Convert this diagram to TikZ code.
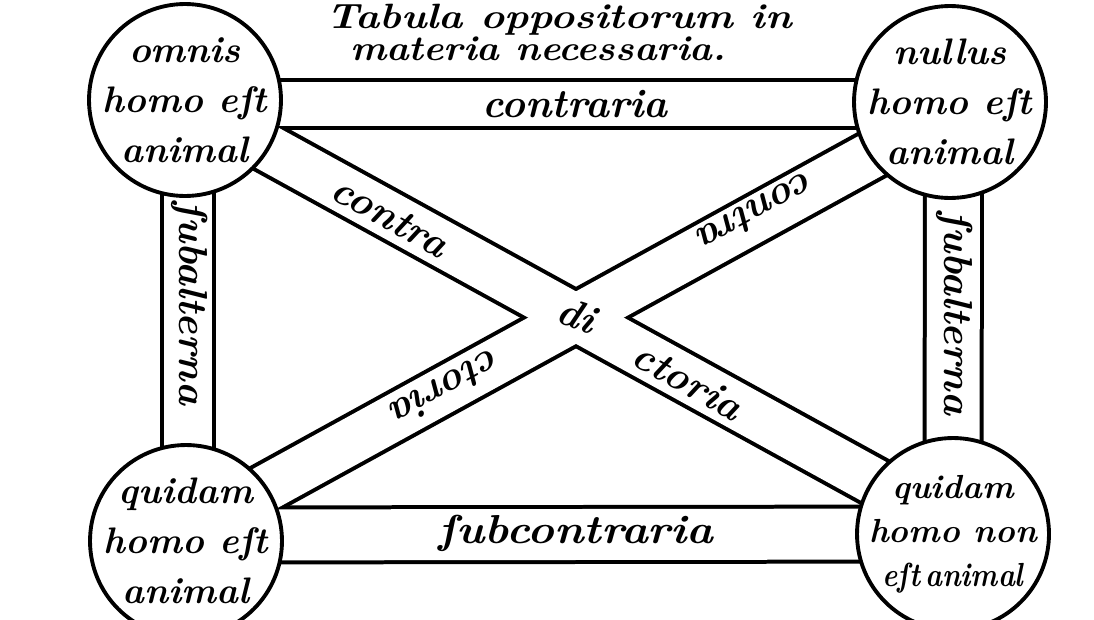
\documentclass[tikz,border=0pt]{standalone}
\usepackage{fontspec}
\usetikzlibrary{backgrounds}

\tikzset{
    propo/.style={circle, draw, line width=2.2pt, fill=white, minimum size=3.84cm, inner sep=-0.6cm, align=center, font=\bfseries\itshape\fontsize{21}{28.5}\selectfont},
    bandedge/.style={line width=#1, black},
    bandhole/.style={line width=#1, white},
    bandtext/.style={inner sep=0pt, font=\bfseries\itshape\fontsize{23}{28}\selectfont},
    titletext/.style={inner sep=0pt, font=\bfseries\itshape\fontsize{20}{24}\selectfont}
}

\begin{document}
\begin{tikzpicture}[x=0.02cm, y=-0.02cm]
    \useasboundingbox (0,0) rectangle (1094,619);

    % Title
    \node[titletext, anchor=base] (tabula) at (559,28) {\scalebox{1.165}[1]{Tabula oppositorum in}};
    \node[titletext, anchor=base] (materia) at (538,60) {\scalebox{1.09}[1]{materia necessaria.}};

    % The four propositions
    \node[propo] (omnis) at (185,100) {omnis\\homo eſt\\animal};
    \node[propo] (nullus) at (950,102) {nullus\\homo eſt\\animal};
    \node[propo] (quidam) at (186,541) {quidam\\homo eſt\\animal};
    \node[propo, font=\bfseries\itshape\fontsize{19}{25}\selectfont] (quidamnon) at (953,534) {quidam\\homo non\\\scalebox{0.86}[1]{eſt\,animal}};

    % Bands behind the circles: black strokes first, white holes on top
    \begin{scope}[on background layer]
        \fill[white] (0,0) rectangle (1094,619);
        \draw[bandedge=1.04cm] ([yshift=-0.08cm]omnis.center) -- ([yshift=-0.04cm]nullus.center);
        \draw[bandedge=1.18cm] ([yshift=0.12cm]quidam.center) -- (quidamnon.center);
        \draw[bandedge=1.12cm] ([xshift=0.06cm]omnis.center) -- ([xshift=0.04cm]quidam.center);
        \draw[bandedge=1.22cm] ([xshift=0.07cm]nullus.center) -- (quidamnon.center);
        \draw[bandedge=1.08cm] ([yshift=-0.05cm]omnis.center) -- ([yshift=0.18cm]quidamnon.center);
        \draw[bandedge=1.08cm] ([yshift=-0.2cm]nullus.center) -- ([yshift=0.18cm]quidam.center);

        \draw[bandhole=0.88cm] ([yshift=-0.08cm]omnis.center) -- ([yshift=-0.04cm]nullus.center);
        \draw[bandhole=1.02cm] ([yshift=0.12cm]quidam.center) -- (quidamnon.center);
        \draw[bandhole=0.96cm] ([xshift=0.06cm]omnis.center) -- ([xshift=0.04cm]quidam.center);
        \draw[bandhole=1.06cm] ([xshift=0.07cm]nullus.center) -- (quidamnon.center);
        \draw[bandhole=0.92cm] ([yshift=-0.05cm]omnis.center) -- ([yshift=0.18cm]quidamnon.center);
        \draw[bandhole=0.92cm] ([yshift=-0.2cm]nullus.center) -- ([yshift=0.18cm]quidam.center);
    \end{scope}

    % Band labels
    \node[bandtext] (contraria) at (575,104) {contraria};
    \node[bandtext] (subcontraria) at (576,533) {\scalebox{1.12}[1]{ſubcontraria}};
    \node[bandtext, rotate=-90] (subalternaL) at (190,303) {ſubalterna};
    \node[bandtext, rotate=-90] (subalternaR) at (955,313) {ſubalterna};
    \node[bandtext, rotate=-29] (contraA) at (390,217) {contra};
    \node[bandtext, rotate=-20] (di) at (577,315) {di};
    \node[bandtext, rotate=-29] (ctoriaA) at (688,381) {ctoria};
    \node[bandtext, rotate=209] (contraB) at (757,212) {contra};
    \node[bandtext, rotate=209] (ctoriaB) at (447,388) {ctoria};
\end{tikzpicture}
\end{document}
